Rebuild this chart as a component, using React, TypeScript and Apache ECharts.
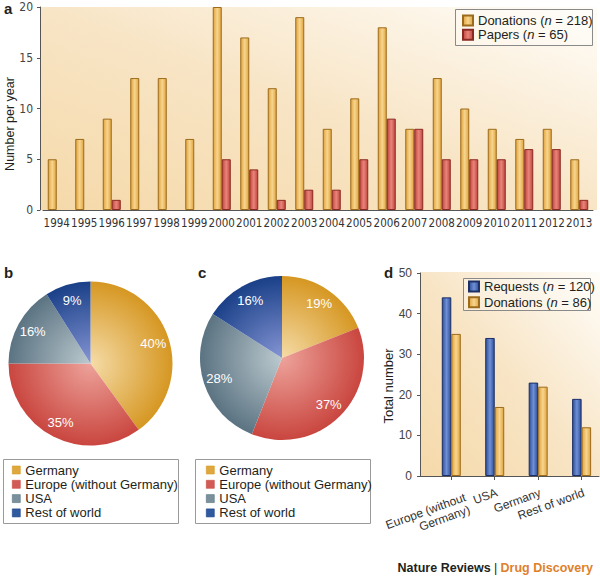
import React, { useEffect, useRef } from 'react';
import * as echarts from 'echarts';

// ---------- data ----------
const years = ['1994', '1995', '1996', '1997', '1998', '1999', '2000', '2001', '2002', '2003',
  '2004', '2005', '2006', '2007', '2008', '2009', '2010', '2011', '2012', '2013'];
const donationsPerYear = [5, 7, 9, 13, 13, 7, 20, 17, 12, 19, 8, 11, 18, 8, 13, 10, 8, 7, 8, 5];
const papersPerYear = [0, 0, 1, 0, 0, 0, 5, 4, 1, 2, 2, 5, 9, 8, 5, 5, 5, 6, 6, 1];

const regions = ['Germany', 'Europe (without Germany)', 'USA', 'Rest of world'];
const sharesB = [40, 35, 16, 9];
const sharesC = [19, 37, 28, 16];

const dCategories = ['Europe (without\nGermany)', 'USA', 'Germany', 'Rest of world'];
const dRequests = [44, 34, 23, 19];
const dDonations = [35, 17, 22, 12];

const seriesNames = {
  donA: 'Donations (n = 218)',
  papA: 'Papers (n = 65)',
  reqD: 'Requests (n = 120)',
  donD: 'Donations (n = 86)',
};

// ---------- styles ----------
const FONT = "'Liberation Sans', Arial, sans-serif";
const NARROW = "'Liberation Sans Narrow', 'DejaVu Sans Condensed', 'Liberation Sans', sans-serif";

const regionEdge = ['#d69722', '#c9463f', '#5b7382', '#1a4088'];
const regionCenter = ['#f5dca8', '#eda39b', '#bccacf', '#8595d4'];
const regionSolid = ['#dfa83e', '#d25c55', '#7a909c', '#2f5aa0'];

const hGrad = (edge: string, mid: string) =>
  new echarts.graphic.LinearGradient(0, 0, 1, 0, [
    { offset: 0, color: edge },
    { offset: 0.5, color: mid },
    { offset: 1, color: edge },
  ]);

const goldBar = () => ({ color: hGrad('#e1a43c', '#f7d590'), borderColor: '#9c6b1c', borderWidth: 1 });
const redBar = () => ({ color: hGrad('#c2453e', '#e8857b'), borderColor: '#8b2a22', borderWidth: 1 });
const blueBar = () => ({ color: hGrad('#2f4f97', '#6f8fd6'), borderColor: '#1c2f66', borderWidth: 1 });

const bgGrad = () =>
  new echarts.graphic.LinearGradient(0, 1, 1, 0, [
    { offset: 0, color: '#f5d9a9' },
    { offset: 0.5, color: '#f8e5c6' },
    { offset: 1, color: '#fffdf9' },
  ]);

const italicN = (name: string) => name.replace('(n ', '({i|n} ');
const hideZero = (v: number) => (v === 0 ? '-' : v);

function pieSeries(id: string, shares: number[], cx: number, cy: number, r: number) {
  return [
    {
      type: 'pie',
      id: id,
      center: [cx, cy],
      radius: r,
      startAngle: 90,
      clockwise: true,
      label: { show: false },
      labelLine: { show: false },
      emphasis: { disabled: true },
      data: regions.map((name, i) => ({
        name,
        value: shares[i],
        itemStyle: {
          color: new echarts.graphic.RadialGradient(cx, cy, r, [
            { offset: 0, color: regionCenter[i] },
            { offset: 1, color: regionEdge[i] },
          ], true),
        },
      })),
    },
    {
      type: 'pie',
      id: id + '-labels',
      center: [cx, cy],
      radius: [44, r],
      startAngle: 90,
      clockwise: true,
      silent: true,
      z: 5,
      itemStyle: { color: 'rgba(0,0,0,0)' },
      emphasis: { disabled: true },
      labelLine: { show: false },
      label: {
        show: true,
        position: 'inside',
        formatter: '{c}%',
        color: '#ffffff',
        fontSize: 13,
        fontFamily: FONT,
      },
      data: regions.map((name, i) => ({ name, value: shares[i] })),
    },
  ];
}

const pieLegend = (left: number) => ({
  orient: 'vertical',
  left,
  top: 463,
  padding: 0,
  icon: 'rect',
  itemWidth: 8,
  itemHeight: 8,
  itemGap: 0.3,
  selectedMode: false,
  textStyle: { fontSize: 13, color: '#231f20', fontFamily: FONT, lineHeight: 14 },
  data: regions.map((name, i) => ({
    name,
    itemStyle: { color: regionSolid[i], borderColor: regionEdge[i], borderWidth: 0.6 },
  })),
});

export default function App() {
  const ref = useRef<HTMLDivElement>(null);

  useEffect(() => {
    if (!ref.current) return;
    const chart = echarts.init(ref.current, null, { renderer: 'svg' });

    const option: any = {
      animation: false,
      textStyle: { fontFamily: FONT },
      grid: [
        { left: 43, right: 7, top: 7, bottom: 368 },
        { left: 420, right: 1, top: 273, bottom: 102 },
      ],
      xAxis: [
        {
          type: 'category',
          gridIndex: 0,
          data: years,
          axisLine: { lineStyle: { color: '#555', width: 1 } },
          axisTick: { alignWithLabel: true, length: 4, lineStyle: { color: '#555' } },
          axisLabel: { fontSize: 11.5, fontFamily: NARROW, color: '#333', margin: 7, interval: 0 },
        },
        {
          type: 'value',
          gridIndex: 1,
          min: -0.72,
          max: 3.4,
          splitLine: { show: false },
          axisLine: { show: true, onZero: false, lineStyle: { color: '#555', width: 1 } },
          axisTick: { show: true, length: 4, customValues: [0, 1, 2, 3], lineStyle: { color: '#555' } },
          axisLabel: {
            customValues: [0.23, 1, 2, 3],
            formatter: (v: number) => {
              const name = dCategories[Math.round(v)] ?? '';
              return name.indexOf('\n') >= 0 ? '{s| }\n' + name : name;
            },
            rotate: 20,
            align: 'right',
            verticalAlign: 'top',
            fontSize: 12,
            lineHeight: 13,
            color: '#333',
            margin: 10,
            rich: { s: { fontSize: 4, lineHeight: 5 } },
          },
        },
      ],
      yAxis: [
        {
          type: 'value',
          gridIndex: 0,
          min: 0,
          max: 20,
          interval: 5,
          offset: 3,
          splitLine: { show: false },
          axisLine: { show: true, lineStyle: { color: '#555', width: 1 } },
          axisTick: { show: true, length: 3, lineStyle: { color: '#555' } },
          axisLabel: { fontSize: 12, fontFamily: NARROW, color: '#444', margin: 7 },
        },
        {
          type: 'value',
          gridIndex: 1,
          min: 0,
          max: 50,
          interval: 10,
          splitLine: { show: false },
          axisLine: { show: true, onZero: false, lineStyle: { color: '#555', width: 1 } },
          axisTick: { show: true, length: 3, lineStyle: { color: '#555' } },
          axisLabel: { fontSize: 12, color: '#444', margin: 8 },
        },
      ],
      legend: [
        {
          orient: 'vertical',
          left: 462,
          top: 13.5,
          padding: 0,
          icon: 'rect',
          itemWidth: 10,
          itemHeight: 10,
          itemGap: 0.3,
          selectedMode: false,
          data: [seriesNames.donA, seriesNames.papA],
          formatter: italicN,
          textStyle: {
            fontSize: 13,
            color: '#231f20',
            fontFamily: FONT,
            lineHeight: 14,
            rich: { i: { fontStyle: 'italic', fontSize: 13, fontFamily: FONT, color: '#231f20' } },
          },
        },
        pieLegend(12),
        pieLegend(206),
        {
          orient: 'vertical',
          left: 468,
          top: 279,
          padding: 0,
          icon: 'rect',
          itemWidth: 10,
          itemHeight: 10,
          itemGap: 0.7,
          selectedMode: false,
          data: [seriesNames.reqD, seriesNames.donD],
          formatter: italicN,
          textStyle: {
            fontSize: 13,
            color: '#231f20',
            fontFamily: FONT,
            lineHeight: 15,
            rich: { i: { fontStyle: 'italic', fontSize: 13, fontFamily: FONT, color: '#231f20' } },
          },
        },
      ],
      series: [
        {
          type: 'bar',
          name: seriesNames.donA,
          xAxisIndex: 0,
          yAxisIndex: 0,
          data: donationsPerYear.map(hideZero),
          barWidth: 9,
          barGap: '0%',
          itemStyle: goldBar(),
          emphasis: { disabled: true },
        },
        {
          type: 'bar',
          name: seriesNames.papA,
          xAxisIndex: 0,
          yAxisIndex: 0,
          data: papersPerYear.map(hideZero),
          barWidth: 9,
          barGap: '0%',
          itemStyle: redBar(),
          emphasis: { disabled: true },
        },
        ...pieSeries('pieB', sharesB, 90.5, 363.5, 82),
        ...pieSeries('pieC', sharesC, 282, 358, 82),
        {
          type: 'bar',
          name: seriesNames.reqD,
          xAxisIndex: 1,
          yAxisIndex: 1,
          data: dRequests.map((v, i) => [i, v]),
          barWidth: 9.5,
          barGap: '0%',
          itemStyle: blueBar(),
          emphasis: { disabled: true },
        },
        {
          type: 'bar',
          name: seriesNames.donD,
          xAxisIndex: 1,
          yAxisIndex: 1,
          data: dDonations.map((v, i) => [i, v]),
          barWidth: 9.5,
          barGap: '0%',
          itemStyle: goldBar(),
          emphasis: { disabled: true },
        },
      ],
      graphic: [
        { type: 'rect', z: -10, silent: true, shape: { x: 40, y: 7, width: 557, height: 203 }, style: { fill: bgGrad() } },
        { type: 'rect', z: -10, silent: true, shape: { x: 420, y: 272, width: 180, height: 204 }, style: { fill: bgGrad() } },
        // legend boxes
        { type: 'rect', z: 1, silent: true, shape: { x: 455.5, y: 9.5, width: 137, height: 36 }, style: { fill: 'rgba(255,255,255,0.25)', stroke: '#8a8a8a', lineWidth: 1 } },
        { type: 'rect', z: 1, silent: true, shape: { x: 3.5, y: 459.5, width: 175, height: 64 }, style: { fill: 'none', stroke: '#9a9a9a', lineWidth: 1 } },
        { type: 'rect', z: 1, silent: true, shape: { x: 195.5, y: 459.5, width: 175, height: 64 }, style: { fill: 'none', stroke: '#9a9a9a', lineWidth: 1 } },
        { type: 'rect', z: 1, silent: true, shape: { x: 463.5, y: 278.5, width: 127, height: 32 }, style: { fill: 'rgba(255,255,255,0.25)', stroke: '#8a8a8a', lineWidth: 1 } },
        // panel letters
        { type: 'text', x: 4, y: 8, style: { text: 'a', font: `bold 15px ${FONT}`, fill: '#231f20', verticalAlign: 'middle' } },
        { type: 'text', x: 4, y: 272, style: { text: 'b', font: `bold 15px ${FONT}`, fill: '#231f20', verticalAlign: 'middle' } },
        { type: 'text', x: 198, y: 272, style: { text: 'c', font: `bold 15px ${FONT}`, fill: '#231f20', verticalAlign: 'middle' } },
        { type: 'text', x: 384, y: 272, style: { text: 'd', font: `bold 15px ${FONT}`, fill: '#231f20', verticalAlign: 'middle' } },
        // axis titles
        { type: 'text', x: 10, y: 124, rotation: Math.PI / 2, style: { text: 'Number per year', font: `12.5px ${FONT}`, fill: '#231f20', align: 'center', verticalAlign: 'middle' } },
        { type: 'text', x: 388, y: 386, rotation: Math.PI / 2, style: { text: 'Total number', font: `13px ${FONT}`, fill: '#231f20', align: 'center', verticalAlign: 'middle' } },
        // footer
        {
          type: 'text',
          x: 593,
          y: 568,
          style: {
            text: '{a|Nature Reviews} {p||} {o|Drug Discovery}',
            align: 'right',
            verticalAlign: 'middle',
            rich: {
              a: { fontWeight: 'bold', fontSize: 12.5, fontFamily: FONT, fill: '#231f20' },
              p: { fontSize: 12.5, fontFamily: FONT, fill: '#231f20' },
              o: { fontWeight: 'bold', fontSize: 12.5, fontFamily: FONT, fill: '#e07f2a' },
            },
          },
        },
      ],
    };

    chart.setOption(option);
    return () => chart.dispose();
  }, []);

  return <div ref={ref} style={{ position: 'absolute', left: 0, top: 0, width: 600, height: 578 }} />;
}
